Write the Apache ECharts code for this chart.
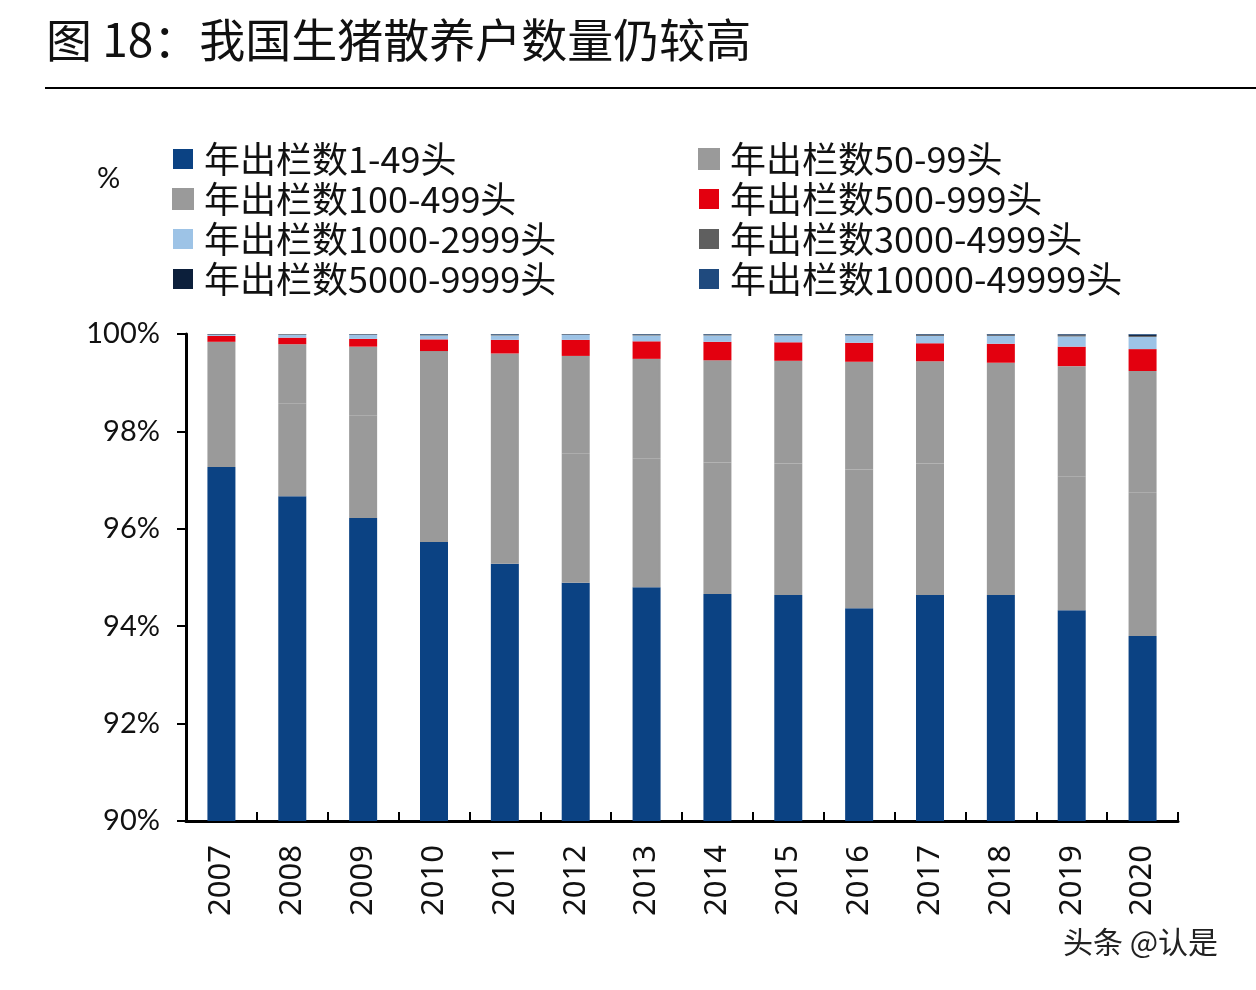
<!DOCTYPE html>
<html>
<head>
<meta charset="utf-8">
<script src="https://cdn.jsdelivr.net/npm/echarts@6/dist/echarts.min.js"></script>
<style>
html,body{margin:0;padding:0;background:#fff;}
#chart{width:1256px;height:990px;}
</style>
</head>
<body>
<div id="chart"></div>
<script>
const years = ['2007','2008','2009','2010','2011','2012','2013','2014','2015','2016','2017','2018','2019','2020'];
const seriesNames = ['年出栏数1-49头','年出栏数50-99头','年出栏数100-499头','年出栏数500-999头','年出栏数1000-2999头','年出栏数3000-4999头','年出栏数5000-9999头','年出栏数10000-49999头'];
const s1_49 = [97.27, 96.67, 96.22, 95.73, 95.28, 94.89, 94.80, 94.66, 94.64, 94.37, 94.64, 94.64, 94.33, 93.80];
const s50_99 = [1.60, 1.90, 2.10, 2.30, 2.50, 2.65, 2.65, 2.70, 2.70, 2.85, 2.70, 2.65, 2.75, 2.95];
const s100_499 = [0.97, 1.22, 1.42, 1.62, 1.82, 2.01, 2.04, 2.10, 2.11, 2.21, 2.10, 2.12, 2.26, 2.49];
const s500_999 = [0.12, 0.135, 0.16, 0.24, 0.28, 0.33, 0.36, 0.38, 0.38, 0.39, 0.37, 0.39, 0.40, 0.45];
const s1000_2999 = [0.02, 0.06, 0.08, 0.08, 0.09, 0.10, 0.12, 0.13, 0.14, 0.15, 0.15, 0.16, 0.21, 0.25];
const s3000_4999 = [0.01, 0.01, 0.01, 0.01, 0.01, 0.01, 0.01, 0.01, 0.01, 0.01, 0.015, 0.015, 0.02, 0.02];
const s5000_9999 = [0.005, 0.005, 0.005, 0.01, 0.01, 0.005, 0.01, 0.01, 0.01, 0.01, 0.015, 0.015, 0.02, 0.025];
const s10000_49999 = [0.005, 0, 0.005, 0.01, 0.01, 0.005, 0.01, 0.01, 0.01, 0.01, 0.01, 0.01, 0.01, 0.015];
const yTicks = [90, 92, 94, 96, 98, 100];

const dataList = [s1_49, s50_99, s100_499, s500_999, s1000_2999, s3000_4999, s5000_9999, s10000_49999];
const colors = ['#0b4283', '#9a9a9a', '#9a9a9a', '#e3000f', '#9dc3e6', '#5f5f5f', '#0c1f3b', '#1f4a7e'];
const cjk = "'Noto Sans CJK SC', 'Noto Sans', sans-serif";

const chart = echarts.init(document.getElementById('chart'));
const series = dataList.map((d, i) => ({
  name: seriesNames[i],
  type: 'bar',
  stack: 'total',
  data: d,
  barWidth: (i === 1 || i === 2) ? 26 : 28,
  itemStyle: (i === 1 || i === 2)
    ? { color: colors[i], borderColor: colors[i], borderWidth: 2 }
    : { color: colors[i], borderWidth: 0 }
}));

const legendText = { fontSize: 36, color: '#111', fontFamily: cjk, lineHeight: 36, padding: [0, 0, 0, 6] };
chart.setOption({
  animation: false,
  backgroundColor: '#fff',
  color: colors,
  legend: [
    {
      orient: 'vertical', left: 167, top: 136, itemGap: 4,
      itemWidth: 20, itemHeight: 20, icon: 'rect',
      data: [seriesNames[0], seriesNames[2], seriesNames[4], seriesNames[6]],
      textStyle: legendText
    },
    {
      orient: 'vertical', left: 693, top: 136, itemGap: 4,
      itemWidth: 20, itemHeight: 20, icon: 'rect',
      data: [seriesNames[1], seriesNames[3], seriesNames[5], seriesNames[7]],
      textStyle: legendText
    }
  ],
  grid: { left: 186, right: 78, top: 334, bottom: 169 },
  xAxis: {
    type: 'category',
    data: years,
    axisLine: { lineStyle: { color: '#000', width: 3 } },
    axisTick: { show: true, inside: true, length: 9, lineStyle: { color: '#000', width: 2 } },
    axisLabel: { rotate: 90, fontSize: 31, color: '#111', margin: 24, fontFamily: "'Noto Sans', sans-serif" }
  },
  yAxis: {
    type: 'value',
    min: yTicks[0],
    max: yTicks[yTicks.length - 1],
    interval: 2,
    axisLine: { show: true, lineStyle: { color: '#000', width: 3 } },
    axisTick: { show: true, length: 9, lineStyle: { color: '#000', width: 2 } },
    splitLine: { show: false },
    axisLabel: { fontSize: 29, color: '#111', margin: 26, formatter: v => v + '%', fontFamily: "'Lato', 'Noto Sans', sans-serif" }
  },
  graphic: [
    { type: 'text', left: 46, top: 17, style: { text: '图 18：我国生猪散养户数量仍较高', fontSize: 46, fill: '#111', fontFamily: cjk, fontWeight: 'normal' } },
    { type: 'line', shape: { x1: 45, y1: 88, x2: 1256, y2: 88 }, style: { stroke: '#000', lineWidth: 2 } },
    { type: 'text', left: 97, top: 164, style: { text: '%', fontSize: 29, fill: '#111', fontFamily: "'Lato', sans-serif" } },
    { type: 'text', left: 1063, top: 927, style: { text: '头条 @认是', fontSize: 30, fill: '#222', fontFamily: cjk } }
  ],
  series: series
});
</script>
</body>
</html>
